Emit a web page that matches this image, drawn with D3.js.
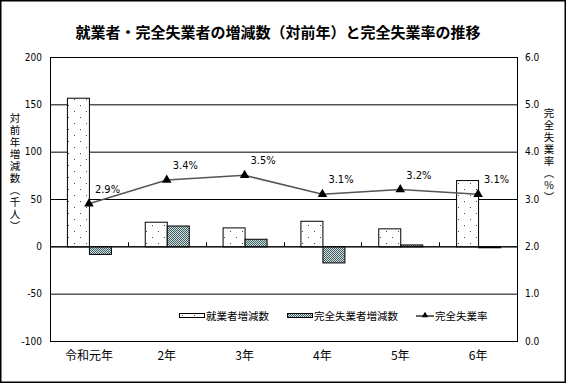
<!DOCTYPE html>
<html><head><meta charset="utf-8">
<script src="https://cdn.jsdelivr.net/npm/d3@7"></script>
<style>
body{margin:0;background:#fff;}
svg{display:block;}
</style></head>
<body><svg id="c" width="566" height="383"></svg>
<script>
const categories = ["令和元年","2年","3年","4年","5年","6年"];
const employed = [157, 26, 20, 27, 19, 70];
const unemployed = [-8, 22, 8, -17, 2, -1];
const rate = [2.9, 3.4, 3.5, 3.1, 3.2, 3.1];
const leftTicks = [-100, -50, 0, 50, 100, 150, 200];
const rightTicks = [0, 1, 2, 3, 4, 5, 6];
const seriesNames = ["就業者増減数","完全失業者増減数","完全失業率"];
const title = "就業者・完全失業者の増減数（対前年）と完全失業率の推移";
const leftTitle = "対前年増減数（千人）";
const rightTitle = "完全失業率（％）";

const svg = d3.select("#c");
const W = 566, H = 383;
const m = {l:50, r:517, t:57, b:341};
const numFont = "'Liberation Sans Narrow','DejaVu Sans Condensed',Arial,sans-serif";
const jpFont = "'Noto Sans CJK JP',sans-serif";

const defs = svg.append("defs");
const dots = defs.append("pattern").attr("id","dots").attr("patternUnits","userSpaceOnUse")
  .attr("width",12).attr("height",12);
dots.append("rect").attr("width",12).attr("height",12).attr("fill","#fff");
dots.append("rect").attr("x",2).attr("y",3).attr("width",1).attr("height",1).attr("fill","#444");
dots.append("rect").attr("x",8).attr("y",9).attr("width",1).attr("height",1).attr("fill","#444");
const hatch = defs.append("pattern").attr("id","hatch").attr("patternUnits","userSpaceOnUse")
  .attr("width",2).attr("height",2);
hatch.append("rect").attr("width",2).attr("height",2).attr("fill","#d4e0e0");
hatch.append("rect").attr("width",1).attr("height",1).attr("fill","#3f5f63");
hatch.append("rect").attr("x",1).attr("y",1).attr("width",1).attr("height",1).attr("fill","#3f5f63");

// outer border
svg.append("rect").attr("x",0.75).attr("y",0.75).attr("width",W-1.5).attr("height",H-1.5)
  .attr("fill","#fff").attr("stroke","#000").attr("stroke-width",1.5);

const x = d3.scaleBand().domain(categories).range([m.l, m.r]);
const yL = d3.scaleLinear().domain([-100, 200]).range([m.b, m.t]);
const yR = d3.scaleLinear().domain([0, 6]).range([m.b, m.t]);
const bw = 22;

// gridlines
svg.append("g").selectAll("line").data(leftTicks).join("line")
  .attr("x1",m.l).attr("x2",m.r).attr("y1",d=>yL(d)+0.5).attr("y2",d=>yL(d)+0.5)
  .attr("stroke","#000").attr("stroke-width",1);

// bars
svg.append("g").selectAll("rect").data(employed).join("rect")
  .attr("x",(d,i)=>x(categories[i])+x.bandwidth()/2-bw+0.5)
  .attr("y",d=>yL(Math.max(0,d))+0.5)
  .attr("width",bw).attr("height",d=>Math.abs(yL(d)-yL(0)))
  .attr("fill","url(#dots)").attr("stroke","#000").attr("stroke-width",1);
svg.append("g").selectAll("rect").data(unemployed).join("rect")
  .attr("x",(d,i)=>x(categories[i])+x.bandwidth()/2+0.5)
  .attr("y",d=>yL(Math.max(0,d))+0.5)
  .attr("width",bw).attr("height",d=>Math.abs(yL(d)-yL(0)))
  .attr("fill","url(#hatch)").attr("stroke","#000").attr("stroke-width",1);

// zero line + category ticks
svg.append("line").attr("x1",m.l).attr("x2",m.r).attr("y1",yL(0)+0.5).attr("y2",yL(0)+0.5)
  .attr("stroke","#000");
svg.append("g").selectAll("line").data(categories.slice(1)).join("line")
  .attr("x1",d=>Math.round(x(d))+0.5).attr("x2",d=>Math.round(x(d))+0.5)
  .attr("y1",yL(0)).attr("y2",yL(0)-4).attr("stroke","#000");

// plot frame
svg.append("rect").attr("x",m.l+0.5).attr("y",m.t+0.5).attr("width",m.r-m.l).attr("height",m.b-m.t)
  .attr("fill","none").attr("stroke","#000");

// line
const cx = c => x(c)+x.bandwidth()/2;
svg.append("path").datum(rate)
  .attr("d", d3.line().x((d,i)=>cx(categories[i])).y(d=>yR(d)))
  .attr("fill","none").attr("stroke","#555").attr("stroke-width",1.5);
const tri = d3.symbol().type(d3.symbolTriangle).size(40);
svg.append("g").selectAll("path").data(rate).join("path")
  .attr("d",tri).attr("transform",(d,i)=>`translate(${cx(categories[i])},${yR(d)})`)
  .attr("fill","#000");
svg.append("g").selectAll("text").data(rate).join("text")
  .attr("x",(d,i)=>cx(categories[i])+6).attr("y",d=>yR(d)-11)
  .attr("font-family",numFont).attr("font-size",11).attr("fill","#000")
  .text(d=>d.toFixed(1)+"%");

// axes labels
svg.append("g").selectAll("text").data(leftTicks).join("text")
  .attr("x",42).attr("y",d=>yL(d)+3.5).attr("text-anchor","end")
  .attr("font-family",numFont).attr("font-size",10).text(d=>d);
svg.append("g").selectAll("text").data(rightTicks).join("text")
  .attr("x",525).attr("y",d=>yR(d)+3.5).attr("text-anchor","start")
  .attr("font-family",numFont).attr("font-size",10).text(d=>d.toFixed(1));
svg.append("g").selectAll("text").data(categories).join("text")
  .attr("x",d=>cx(d)).attr("y",360).attr("text-anchor","middle")
  .attr("font-family",jpFont).attr("font-size",12).text(d=>d);

// titles
svg.append("text").attr("x",278).attr("y",38).attr("text-anchor","middle")
  .attr("font-family",jpFont).attr("font-size",15).attr("font-weight","bold").text(title);

function vertical(str, cxp, top){
  svg.append("text").attr("font-family",jpFont).attr("font-size",10.5)
    .attr("x",cxp).attr("y",top)
    .style("writing-mode","vertical-rl").style("letter-spacing","1.5px")
    .text(str);
}
vertical(leftTitle, 15, 113);
vertical(rightTitle, 549, 108);

// legend
const lg = svg.append("g").attr("font-family",jpFont).attr("font-size",10.5);
lg.append("rect").attr("x",179.5).attr("y",313.5).attr("width",25).attr("height",4)
  .attr("fill","url(#dots)").attr("stroke","#000");
lg.append("text").attr("x",206).attr("y",320).text(seriesNames[0]);
lg.append("rect").attr("x",287.5).attr("y",313.5).attr("width",25).attr("height",4)
  .attr("fill","url(#hatch)").attr("stroke","#000");
lg.append("text").attr("x",314).attr("y",320).text(seriesNames[1]);
lg.append("line").attr("x1",416).attr("x2",434).attr("y1",316).attr("y2",316)
  .attr("stroke","#000").attr("stroke-width",1.2);
lg.append("path").attr("d",d3.symbol().type(d3.symbolTriangle).size(18))
  .attr("transform","translate(425,315.5)").attr("fill","#000");
lg.append("text").attr("x",435).attr("y",320).text(seriesNames[2]);
</script></body></html>
